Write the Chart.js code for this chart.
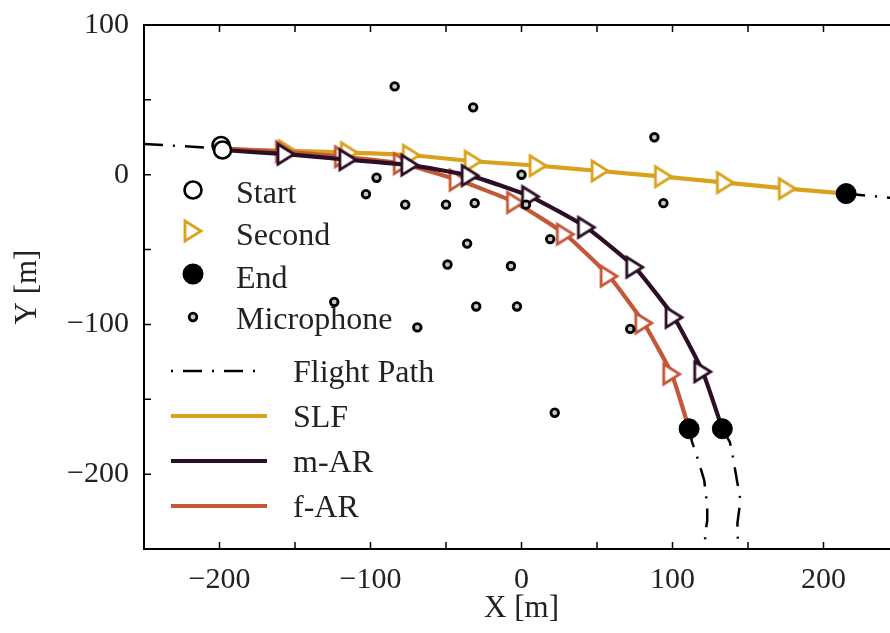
<!DOCTYPE html>
<html>
<head>
<meta charset="utf-8">
<script src="https://cdn.jsdelivr.net/npm/chart.js@4.4.0/dist/chart.umd.min.js"></script>
<style>
  html, body { margin: 0; padding: 0; background: #fff; overflow: hidden; }
  #wrap { width: 890px; height: 633px; overflow: hidden; }
  canvas { display: block; }
</style>
</head>
<body>
<div id="wrap"><canvas id="flightChart" width="900" height="633"></canvas></div>
<script>
// tick labels
const xTicks = [-200, -100, 0, 100, 200];
const yTicks = [100, 0, -100, -200];

// microphone positions [m]
const micX = [-84, -32, 88, 0, -96, -103, -77, -50, -31, 3, 94, -36, 19, -49, -7, -124, -30, -3, -69, 72, 22];
const micY = [59, 45, 25, 0, -2, -13, -20, -20, -19, -20, -19, -46, -43, -60, -61, -85, -88, -88, -102, -103, -159];

// estimated trajectories (start, one point per second, end)
const slfX = [-198, -155, -114, -73, -32, 11, 52, 94, 135, 176, 215];
const slfY = [17, 16, 14.7, 13, 9, 6, 2.5, -1.3, -5.3, -9.3, -12.6];
const marX = [-198, -156, -115, -74, -34, 6, 43, 75, 101, 120, 133];
const marY = [16.5, 13.7, 10, 6.4, -0.6, -14.6, -35.2, -61.8, -95.3, -131.6, -169.7];
const farX = [-198, -157, -118, -79, -42, -4, 29, 58, 81, 99.5, 111];
const farY = [17.5, 15.4, 12, 7.4, -3.6, -18.6, -39.8, -67.8, -99.1, -133.2, -169.7];

// start / end markers
const startX = [-199, -198];
const startY = [19.5, 16.5];
const endX = [215, 111, 133];
const endY = [-12.6, -169.7, -169.7];

// true flight path pieces
const leadX = [-250, -198];
const leadY = [20.5, 17.5];
const slfTailX = [215, 250];
const slfTailY = [-12.6, -16];
const farTailX = [111, 113, 116, 121, 123, 123, 121.5, 122];
const farTailY = [-169.7, -178.6, -187.4, -204, -221.3, -231.3, -240, -253];
const marTailX = [133, 138, 140, 143, 145, 143, 143.5];
const marTailY = [-169.7, -178.6, -188.6, -206, -217.3, -232.6, -253];

const cSLF = '#d8a21d';
const cMAR = '#2b0f26';
const cFAR = '#c4573a';
const serif = '"Liberation Serif", "DejaVu Serif", serif';
const dashDot = [19, 10, 2, 10];

const pts = (xs, ys) => xs.map((x, i) => ({ x: x, y: ys[i] }));

function triangle(color) {
  const c = document.createElement('canvas');
  c.width = 24; c.height = 28;
  const g = c.getContext('2d');
  g.beginPath();
  g.moveTo(4, 4);
  g.lineTo(20, 14);
  g.lineTo(4, 24);
  g.closePath();
  g.fillStyle = '#fff';
  g.fill();
  g.lineWidth = 2.8;
  g.strokeStyle = color;
  g.stroke();
  return c;
}
const triSLF = triangle(cSLF);
const triMAR = triangle(cMAR);
const triFAR = triangle(cFAR);

// markers only on the per-second points, not on start/end
const secondRadius = ctx => (ctx.dataIndex === 0 || ctx.dataIndex === ctx.dataset.data.length - 1) ? 0 : 10;

function pathSet(label, data, color, tri) {
  return {
    label: label, data: data, showLine: true,
    borderColor: color, borderWidth: 4.2, tension: 0.15,
    pointStyle: tri, pointRadius: secondRadius
  };
}
function flightSet(data) {
  return {
    label: 'Flight Path', data: data, showLine: true,
    borderColor: '#000', borderWidth: 2.5, borderDash: dashDot,
    pointRadius: 0
  };
}

// in-plot legend
const legendBox = {
  id: 'legendBox',
  afterDatasetsDraw(chart) {
    const g = chart.ctx;
    g.save();
    g.font = '32px ' + serif;
    g.textBaseline = 'alphabetic';
    const mx = 193, tx = 236;

    g.lineWidth = 2.6;
    g.strokeStyle = '#000';
    g.fillStyle = '#fff';
    g.beginPath(); g.arc(mx, 190, 8.5, 0, Math.PI * 2); g.fill(); g.stroke();
    g.drawImage(triSLF, mx - 12, 231 - 14);
    g.fillStyle = '#000';
    g.beginPath(); g.arc(mx, 274, 10.5, 0, Math.PI * 2); g.fill();
    g.fillStyle = '#c8c8c8';
    g.lineWidth = 2.8;
    g.beginPath(); g.arc(mx, 317, 3.8, 0, Math.PI * 2); g.fill(); g.stroke();

    g.fillStyle = '#222';
    g.fillText('Start', tx, 203);
    g.fillText('Second', tx, 245);
    g.fillText('End', tx, 288);
    g.fillText('Microphone', tx, 329);

    const lines = [
      ['Flight Path', '#000', 371, dashDot, 2.5, 261],
      ['SLF', cSLF, 416, [], 4.2, 267],
      ['m-AR', cMAR, 461, [], 4.2, 267],
      ['f-AR', cFAR, 506, [], 4.2, 267]
    ];
    lines.forEach(l => {
      g.strokeStyle = l[1];
      g.lineWidth = l[4];
      g.setLineDash(l[3]);
      g.lineDashOffset = 29;
      g.beginPath(); g.moveTo(171, l[2]); g.lineTo(l[5], l[2]); g.stroke();
      g.setLineDash([]);
      g.fillStyle = '#222';
      g.fillText(l[0], 293, l[2] + 11);
    });
    g.restore();
  }
};

// frame + inward ticks
const frame = {
  id: 'frame',
  afterDraw(chart) {
    const a = chart.chartArea, g = chart.ctx;
    const xs = chart.scales.x, ys = chart.scales.y;
    g.save();
    g.strokeStyle = '#000';
    g.lineWidth = 2;
    g.strokeRect(a.left, a.top, a.right - a.left, a.bottom - a.top);
    g.lineWidth = 1.5;
    g.beginPath();
    xs.ticks.forEach(t => {
      const p = xs.getPixelForValue(t.value);
      if (p <= a.left + 1 || p >= a.right - 1) return;
      g.moveTo(p, a.bottom); g.lineTo(p, a.bottom - 7);
      g.moveTo(p, a.top); g.lineTo(p, a.top + 7);
    });
    ys.ticks.forEach(t => {
      const p = ys.getPixelForValue(t.value);
      if (p <= a.top + 1 || p >= a.bottom - 1) return;
      g.moveTo(a.left, p); g.lineTo(a.left + 7, p);
      g.moveTo(a.right, p); g.lineTo(a.right - 7, p);
    });
    g.stroke();
    g.restore();
  }
};

const fmt = v => v < 0 ? '\u2212' + Math.abs(v) : String(v);

new Chart(document.getElementById('flightChart'), {
  type: 'scatter',
  data: {
    datasets: [
      { label: 'Microphone', data: pts(micX, micY), pointRadius: 3.8,
        pointBackgroundColor: '#c8c8c8', pointBorderColor: '#000', pointBorderWidth: 2.8 },
      { label: 'End', data: pts(endX, endY), pointRadius: 10,
        pointBackgroundColor: '#000', pointBorderColor: '#000', pointBorderWidth: 1 },
      { label: 'Start', data: pts(startX, startY), pointRadius: 8.5,
        pointBackgroundColor: '#fff', pointBorderColor: '#000', pointBorderWidth: 2.6 },
      pathSet('m-AR', pts(marX, marY), cMAR, triMAR),
      pathSet('f-AR', pts(farX, farY), cFAR, triFAR),
      pathSet('SLF', pts(slfX, slfY), cSLF, triSLF),
      flightSet(pts(leadX, leadY)),
      flightSet(pts(slfTailX, slfTailY)),
      flightSet(pts(farTailX, farTailY)),
      flightSet(pts(marTailX, marTailY))
    ]
  },
  options: {
    responsive: false,
    animation: false,
    events: [],
    layout: { autoPadding: false, padding: { top: 22, right: 1, left: 0, bottom: 0 } },
    plugins: { legend: { display: false }, tooltip: { enabled: false } },
    scales: {
      x: {
        type: 'linear', min: -250, max: 250,
        grid: { display: false }, border: { display: false },
        ticks: {
          stepSize: 50, autoSkip: false, maxRotation: 0, padding: 5,
          color: '#222', font: { family: serif, size: 30 },
          callback: v => xTicks.includes(v) ? fmt(v) : ''
        },
        title: { display: true, text: 'X [m]', color: '#222',
          font: { family: serif, size: 31 }, padding: { top: 0, bottom: 6 } },
        afterFit: s => { s.height = 84; s.paddingLeft = 0; s.paddingRight = 0; }
      },
      y: {
        type: 'linear', min: -250, max: 100,
        grid: { display: false }, border: { display: false },
        ticks: {
          stepSize: 50, autoSkip: false, padding: 7,
          color: '#222', font: { family: serif, size: 30 },
          callback: v => yTicks.includes(v) ? fmt(v) : ''
        },
        title: { display: true, text: 'Y [m]', color: '#222',
          font: { family: serif, size: 31 }, padding: { top: 9, bottom: 0 } },
        afterFit: s => { s.width = 144; }
      }
    }
  },
  plugins: [legendBox, frame]
});
</script>
</body>
</html>
